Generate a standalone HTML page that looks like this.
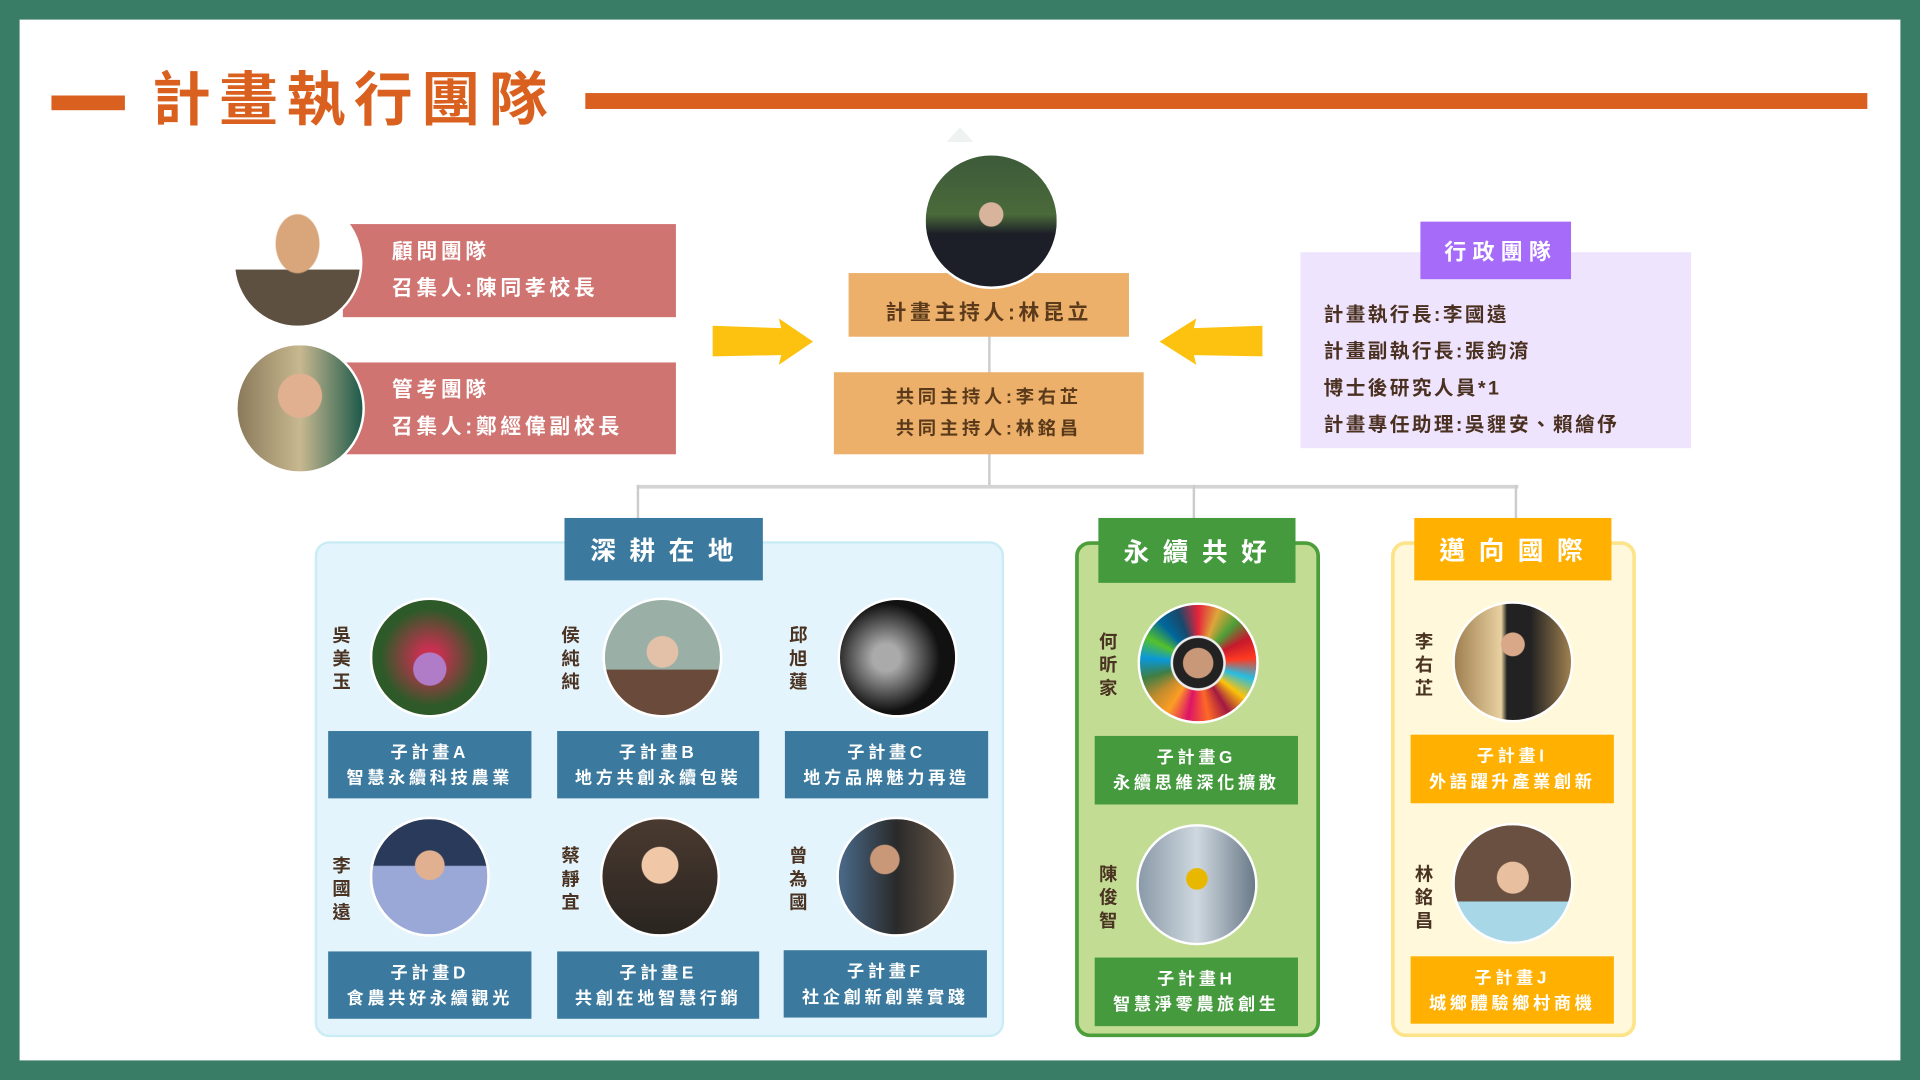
<!DOCTYPE html>
<html><head><meta charset="utf-8"><style>
html,body{margin:0;padding:0;width:1920px;height:1080px;overflow:hidden;background:#3a7d66}
#w{position:absolute;left:0;top:0;width:1568px;height:882px;transform:scale(1.22449);transform-origin:0 0;font-family:"Liberation Sans","Noto Sans CJK TC",sans-serif;font-weight:bold}
.a{position:absolute}
.c{position:absolute;border-radius:50%;border:2px solid #fff;box-sizing:border-box}
.bx{position:absolute;display:flex;flex-direction:column;align-items:center;justify-content:center;text-align:center;color:#fff;font-size:14px;letter-spacing:3px;line-height:21px}
.nm{position:absolute;width:18px;font-size:15px;line-height:19px;color:#4a3322;text-align:center}
.h{position:absolute;display:flex;align-items:center;justify-content:center;color:#fff;font-size:21px;letter-spacing:11px;padding-left:8px;box-sizing:border-box}
</style></head><body><div id="w">
<div class="a" style="left:16px;top:16px;width:1536px;height:850px;background:#fff"></div>
<div class="a" style="left:42px;top:78px;width:60px;height:12px;background:#d9601f"></div>
<div class="a" style="left:478px;top:76px;width:1047px;height:13px;background:#d9601f"></div>
<div class="a" style="left:124px;top:50px;font-size:48px;color:#d9601f;letter-spacing:7px;line-height:66px">計畫執行團隊</div>
<div class="a" style="left:773px;top:104px;width:0;height:0;border-left:11px solid transparent;border-right:11px solid transparent;border-bottom:12px solid #eef3f1"></div>

<div class="a" style="left:807px;top:272px;width:2px;height:126px;background:#ccc"></div>
<div class="a" style="left:520px;top:396px;width:720px;height:3px;background:#d4d4d4"></div>
<div class="a" style="left:520px;top:396px;width:2px;height:30px;background:#ccc"></div>
<div class="a" style="left:974px;top:396px;width:2px;height:30px;background:#ccc"></div>
<div class="a" style="left:1237px;top:396px;width:2px;height:30px;background:#ccc"></div>

<div class="bx" style="left:693px;top:223px;width:229px;height:52px;background:#ecb06a;color:#5a3a1a;font-size:17px;padding-top:12px;box-sizing:border-box">計畫主持人:林昆立</div>
<div class="c" style="left:754px;top:125px;width:111px;height:111px;background:radial-gradient(circle at 50% 45%,#d8b49c 0 12%,transparent 13%),linear-gradient(#3d5a3a 0,#4a6a3a 45%,#1c1e28 60%,#1c1e28 100%)"></div>
<div class="bx" style="left:681px;top:304px;width:253px;height:67px;background:#ecb06a;color:#5a3a1a;font-size:15px;line-height:26px">共同主持人:李右芷<br>共同主持人:林銘昌</div>

<div class="bx" style="left:280px;top:183px;width:272px;height:76px;background:#d07472;font-size:17px;align-items:flex-start;text-align:left;padding-left:40px;box-sizing:border-box;line-height:30px">顧問團隊<br>召集人:陳同孝校長</div>
<div class="bx" style="left:280px;top:296px;width:272px;height:75px;background:#d07472;font-size:17px;align-items:flex-start;text-align:left;padding-left:40px;box-sizing:border-box;line-height:30px">管考團隊<br>召集人:鄭經偉副校長</div>
<div class="c" style="left:190px;top:161px;width:106px;height:107px;background:radial-gradient(ellipse 18% 24% at 50% 35%,#d9a57a 0 95%,transparent 100%),linear-gradient(#fff 0 55%,#5e5040 56%)"></div>
<div class="c" style="left:192px;top:280px;width:106px;height:107px;background:radial-gradient(circle at 50% 40%,#e0b090 0 22%,transparent 23%),linear-gradient(90deg,#8a7a5a,#c8b890 50%,#1d5a4a)"></div>

<svg class="a" style="left:580px;top:258px" width="86" height="42"><polygon points="2,8 58,10 56,2 84,21 56,40 58,32 2,33" fill="#fcc20f"/></svg>
<svg class="a" style="left:945px;top:258px" width="88" height="42"><polygon points="86,8 30,10 32,2 2,21 32,40 30,32 86,33" fill="#fcc20f"/></svg>

<div class="a" style="left:1062px;top:206px;width:319px;height:160px;background:#efe4fd"></div>
<div class="h" style="left:1160px;top:181px;width:123px;height:47px;background:#a66cf9;font-size:18px;letter-spacing:5px">行政團隊</div>
<div class="a" style="left:1081px;top:243px;font-size:16px;line-height:30px;color:#4a3020;letter-spacing:2px">計畫執行長:李國遠<br>計畫副執行長:張鈞淯<br>博士後研究人員*1<br>計畫專任助理:吳貍安、賴繪伃</div>

<div class="a" style="left:257px;top:442px;width:563px;height:405px;background:#e4f4fd;border:2px solid #c9ecf5;border-radius:12px;box-sizing:border-box"></div>
<div class="h" style="left:461px;top:423px;width:162px;height:51px;background:#3b7a9e">深耕在地</div>
<div class="c" style="left:302px;top:488px;width:98px;height:98px;background:radial-gradient(circle at 50% 60%,#b07cc8 0 18%,transparent 19%),radial-gradient(circle,#c83050 0 12%,#2d5a28 60%)"></div>
<div class="c" style="left:492px;top:488px;width:98px;height:98px;background:radial-gradient(circle at 50% 45%,#e3c0a8 0 18%,transparent 19%),linear-gradient(#9ab0a6 0 60%,#6a4a3a 61%)"></div>
<div class="c" style="left:684px;top:488px;width:98px;height:98px;background:radial-gradient(circle at 40% 50%,#aaa 0 15%,#111 60%)"></div>
<div class="c" style="left:302px;top:667px;width:98px;height:98px;background:radial-gradient(circle at 50% 40%,#e0b090 0 16%,transparent 17%),linear-gradient(#2a3a5a 0 40%,#9aa8d8 41%)"></div>
<div class="c" style="left:490px;top:667px;width:98px;height:98px;background:radial-gradient(circle at 50% 40%,#f0c8a8 0 20%,transparent 21%),linear-gradient(#4a3a30,#2a2520)"></div>
<div class="c" style="left:683px;top:667px;width:98px;height:98px;background:radial-gradient(circle at 40% 35%,#c89878 0 14%,transparent 15%),linear-gradient(90deg,#4a6a8a,#2a2a2a 50%,#6a5a4a)"></div>
<div class="nm" style="left:270px;top:510px">吳<br>美<br>玉</div>
<div class="nm" style="left:457px;top:510px">侯<br>純<br>純</div>
<div class="nm" style="left:643px;top:510px">邱<br>旭<br>蓮</div>
<div class="nm" style="left:270px;top:698px">李<br>國<br>遠</div>
<div class="nm" style="left:457px;top:690px">蔡<br>靜<br>宜</div>
<div class="nm" style="left:643px;top:690px">曾<br>為<br>國</div>
<div class="bx" style="left:268px;top:597px;width:166px;height:55px;background:#3b7a9e">子計畫A<br>智慧永續科技農業</div>
<div class="bx" style="left:455px;top:597px;width:165px;height:55px;background:#3b7a9e">子計畫B<br>地方共創永續包裝</div>
<div class="bx" style="left:641px;top:597px;width:166px;height:55px;background:#3b7a9e">子計畫C<br>地方品牌魅力再造</div>
<div class="bx" style="left:268px;top:777px;width:166px;height:55px;background:#3b7a9e">子計畫D<br>食農共好永續觀光</div>
<div class="bx" style="left:455px;top:777px;width:165px;height:55px;background:#3b7a9e">子計畫E<br>共創在地智慧行銷</div>
<div class="bx" style="left:640px;top:776px;width:166px;height:55px;background:#3b7a9e">子計畫F<br>社企創新創業實踐</div>

<div class="a" style="left:878px;top:442px;width:200px;height:405px;background:#c2dd93;border:3px solid #4c9e3a;border-radius:12px;box-sizing:border-box"></div>
<div class="h" style="left:897px;top:423px;width:161px;height:53px;background:#449a3d">永續共好</div>
<div class="c" style="left:929px;top:492px;width:99px;height:99px;background:radial-gradient(circle,#c89878 0 18%,#222 19% 30%,#eee 31% 33%,transparent 34%),conic-gradient(#e5243b,#dda63a,#4c9f38,#c5192d,#ff3a21,#26bde2,#fcc30b,#a21942,#fd6925,#dd1367,#fd9d24,#bf8b2e,#3f7e44,#0a97d9,#56c02b,#00689d,#19486a,#e5243b)"></div>
<div class="c" style="left:928px;top:673px;width:99px;height:99px;background:radial-gradient(circle at 50% 45%,#e8b800 0 12%,transparent 13%),linear-gradient(90deg,#8a9aa8,#cfd8e0 50%,#6a7a88)"></div>
<div class="nm" style="left:896px;top:515px">何<br>昕<br>家</div>
<div class="nm" style="left:896px;top:705px">陳<br>俊<br>智</div>
<div class="bx" style="left:894px;top:601px;width:166px;height:56px;background:#449a3d">子計畫G<br>永續思維深化擴散</div>
<div class="bx" style="left:894px;top:782px;width:166px;height:56px;background:#449a3d">子計畫H<br>智慧淨零農旅創生</div>

<div class="a" style="left:1136px;top:442px;width:200px;height:405px;background:#fff8db;border:3px solid #fde48a;border-radius:12px;box-sizing:border-box"></div>
<div class="h" style="left:1155px;top:423px;width:161px;height:51px;background:#ffb000">邁向國際</div>
<div class="c" style="left:1186px;top:491px;width:99px;height:99px;background:radial-gradient(circle at 50% 35%,#d8a888 0 12%,transparent 13%),linear-gradient(90deg,#a08050,#e8d0a0 40%,#222 45% 65%,#a08050)"></div>
<div class="c" style="left:1186px;top:672px;width:99px;height:99px;background:radial-gradient(circle at 50% 45%,#e8c0a0 0 18%,transparent 19%),linear-gradient(#6a5040 0 65%,#a8d8e8 66%)"></div>
<div class="nm" style="left:1154px;top:515px">李<br>右<br>芷</div>
<div class="nm" style="left:1154px;top:705px">林<br>銘<br>昌</div>
<div class="bx" style="left:1152px;top:600px;width:166px;height:56px;background:#ffb000">子計畫I<br>外語躍升產業創新</div>
<div class="bx" style="left:1152px;top:781px;width:166px;height:55px;background:#ffb000">子計畫J<br>城鄉體驗鄉村商機</div>
</div></body></html>
